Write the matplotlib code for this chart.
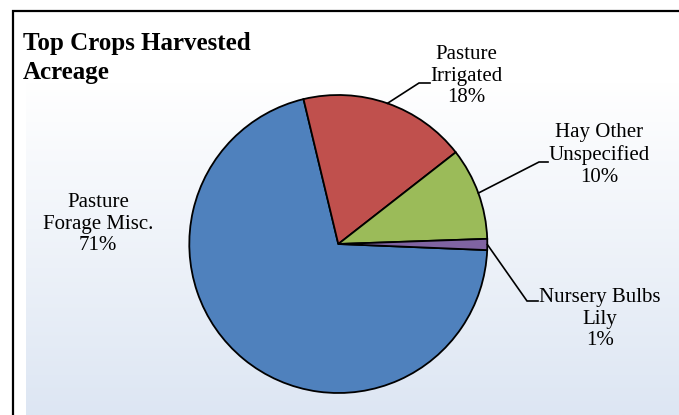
import numpy as np
import matplotlib
matplotlib.use("Agg")
import matplotlib.pyplot as plt
from matplotlib.patches import Rectangle

# ---- data ----
categories = ["Pasture\nForage Misc.", "Pasture\nIrrigated", "Hay Other\nUnspecified", "Nursery Bulbs\nLily"]
values = [70.6, 18.2, 10.0, 1.2]
colors = ["#4F81BD", "#C0504D", "#9BBB59", "#8064A2"]
title = "Top Crops Harvested\nAcreage"

W, H = 679, 415
fig = plt.figure(figsize=(W / 100, H / 100), dpi=100)
fig.patch.set_facecolor("white")

# gradient plot area
bg = fig.add_axes([26 / W, 0, 1 - 26 / W, (H - 83) / H])
top = np.array([255, 255, 255]) / 255
bot = np.array([221, 230, 243]) / 255
t = np.linspace(0, 1, 256)[:, None]
grad = (top[None, :] * (1 - t) + bot[None, :] * t)[:, None, :]
bg.imshow(grad, aspect="auto", extent=[0, 1, 0, 1])
bg.axis("off")

# border
fig.add_artist(Rectangle((13 / W, -0.1), 1.2, (H - 11) / H + 0.1,
                         transform=fig.transFigure, fill=False,
                         lw=1.6, edgecolor="black"))

# pie axes
cx, cy, r = 338.3, 244, 149
ax = fig.add_axes([(cx - r) / W, (H - cy - r) / H, 2 * r / W, 2 * r / H])
ax.patch.set_alpha(0)

start = 103.5 + values[0] / 100 * 360
wedges, _ = ax.pie(values, colors=colors, startangle=start, counterclock=False,
                   radius=1, wedgeprops=dict(edgecolor="black", linewidth=1.3))
ax.set_xlim(-1, 1)
ax.set_ylim(-1, 1)
ax.axis("off")

def px2d(px, py):
    return (px - cx) / r, (cy - py) / r

font = dict(family=["Liberation Serif", "DejaVu Serif"], fontsize=15)
total = sum(values)
# label layout: (text center px, text center py, elbow px, elbow py, line end px)
layout = [
    (98, 224, None, None, None),
    (466, 76, 419, 83, 430),
    (599, 155, 539, 162, 548),
    (600, 319, 527, 301, 538),
]
for w, cat, v, lay in zip(wedges, categories, values, layout):
    tx, ty, ex, ey, lx = lay
    pct = round(v / total * 100)
    x, y = px2d(tx, ty)
    ax.text(x, y, f"{cat}\n{pct}%", ha="center", va="center",
            linespacing=1.2, clip_on=False, **font)
    if ex is not None:
        mid = np.deg2rad((w.theta1 + w.theta2) / 2)
        ax0, ay0 = np.cos(mid), np.sin(mid)
        exd, eyd = px2d(ex, ey)
        lxd, _ = px2d(lx, ey)
        ax.plot([ax0, exd, lxd], [ay0, eyd, eyd], color="black", lw=1.2,
                clip_on=False, solid_joinstyle="miter")

fig.text(23 / W, 1 - 58 / H, title, ha="left", va="center", fontweight="bold",
         family=["Liberation Serif", "DejaVu Serif"], fontsize=18, linespacing=1.3)

fig.savefig("out.png", dpi=100)
